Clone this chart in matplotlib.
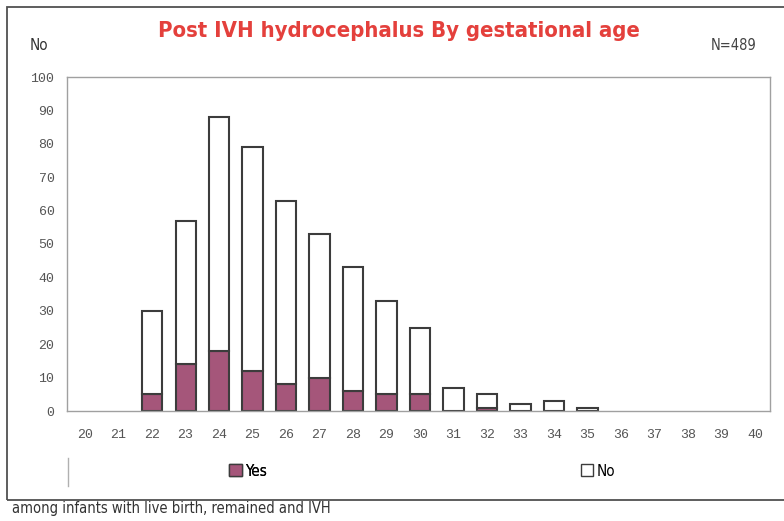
import numpy as np
import matplotlib
matplotlib.use("Agg")
from matplotlib import pyplot as plt
from matplotlib.patches import Rectangle, Patch
from matplotlib.lines import Line2D

# gestational age (weeks) and counts of post-IVH hydrocephalus
weeks = [str(w) for w in range(20, 41)]
yes_counts = [0, 0, 5, 14, 18, 12, 8, 10, 6, 5, 5, 0, 1, 0, 0, 0, 0, 0, 0, 0, 0]
no_counts = [0, 0, 25, 43, 70, 67, 55, 43, 37, 28, 20, 7, 4, 2, 3, 1, 0, 0, 0, 0, 0]
y_ticks = list(range(0, 101, 10))

yes_color = "#a5567a"
edge_color = "#3c3c3c"
tick_font = ["Liberation Mono", "DejaVu Sans Mono"]
cond = {"family": "DejaVu Sans", "stretch": "condensed"}

fig = plt.figure(figsize=(7.84, 5.21), dpi=100)
ax = fig.add_axes([67 / 784, 1 - 411 / 521, 703 / 784, 334 / 521])

x = np.arange(len(weeks))
yes = np.array(yes_counts)
no = np.array(no_counts)
# skip empty segments so no flat outlines sit on the axis
m_yes = yes > 0
m_no = no > 0
ax.bar(x[m_yes], yes[m_yes], width=0.6, color=yes_color, edgecolor=edge_color, linewidth=1.5)
ax.bar(x[m_no], no[m_no], width=0.6, bottom=yes[m_no], color="white",
       edgecolor=edge_color, linewidth=1.5)

ax.set_xlim(-0.54, 20.45)
ax.set_ylim(0, 100)
ax.set_xticks(x)
ax.set_xticklabels(weeks)
ax.set_yticks(y_ticks)
ax.tick_params(length=0, colors="#555555", labelsize=9.5)
ax.tick_params(axis="x", pad=13)
ax.tick_params(axis="y", pad=9)
for lab in ax.get_xticklabels() + ax.get_yticklabels():
    lab.set_family(tick_font)
for s in ax.spines.values():
    s.set_color("#a0a0a0")
    s.set_linewidth(1.0)

# outer frame round the whole chart
fig.add_artist(Rectangle((7 / 784, 1 - 500 / 521), 1.0, 493 / 521, transform=fig.transFigure,
                         fill=False, edgecolor="#505050", linewidth=1.3))

fig.text(399 / 784, 1 - 31 / 521, "Post IVH hydrocephalus By gestational age",
         ha="center", va="center", color="#e4403c", fontsize=15.8, fontweight="bold", **cond)
fig.text(30 / 784, 1 - 46 / 521, "No", ha="left", va="center", color="#333333",
         fontsize=11, **cond)
fig.text(757 / 784, 1 - 45 / 521, "N=489", ha="right", va="center", color="#444444",
         fontsize=10.5, **cond)
fig.text(12 / 784, 1 - 509 / 521, "among infants with live birth, remained and IVH",
         ha="left", va="center", color="#333333", fontsize=10.5, **cond)

# legend area
fig.add_artist(Line2D([68 / 784, 68 / 784], [1 - 458 / 521, 1 - 486 / 521],
                      transform=fig.transFigure, color="#b0b0b0", linewidth=1))
leg_prop = {"family": "DejaVu Sans", "stretch": "condensed", "size": 11}
leg_yes = fig.legend(handles=[Patch(facecolor=yes_color, edgecolor=edge_color, label="Yes")],
                     loc="center", bbox_to_anchor=(248 / 784, 1 - 471 / 521), frameon=False,
                     handlelength=0.8, handleheight=0.8, handletextpad=0.2, prop=leg_prop)
fig.add_artist(leg_yes)
fig.legend(handles=[Patch(facecolor="white", edgecolor=edge_color, label="No")],
           loc="center", bbox_to_anchor=(598 / 784, 1 - 471 / 521), frameon=False,
           handlelength=0.8, handleheight=0.8, handletextpad=0.2, prop=leg_prop)

fig.savefig("out.png", dpi=100)
